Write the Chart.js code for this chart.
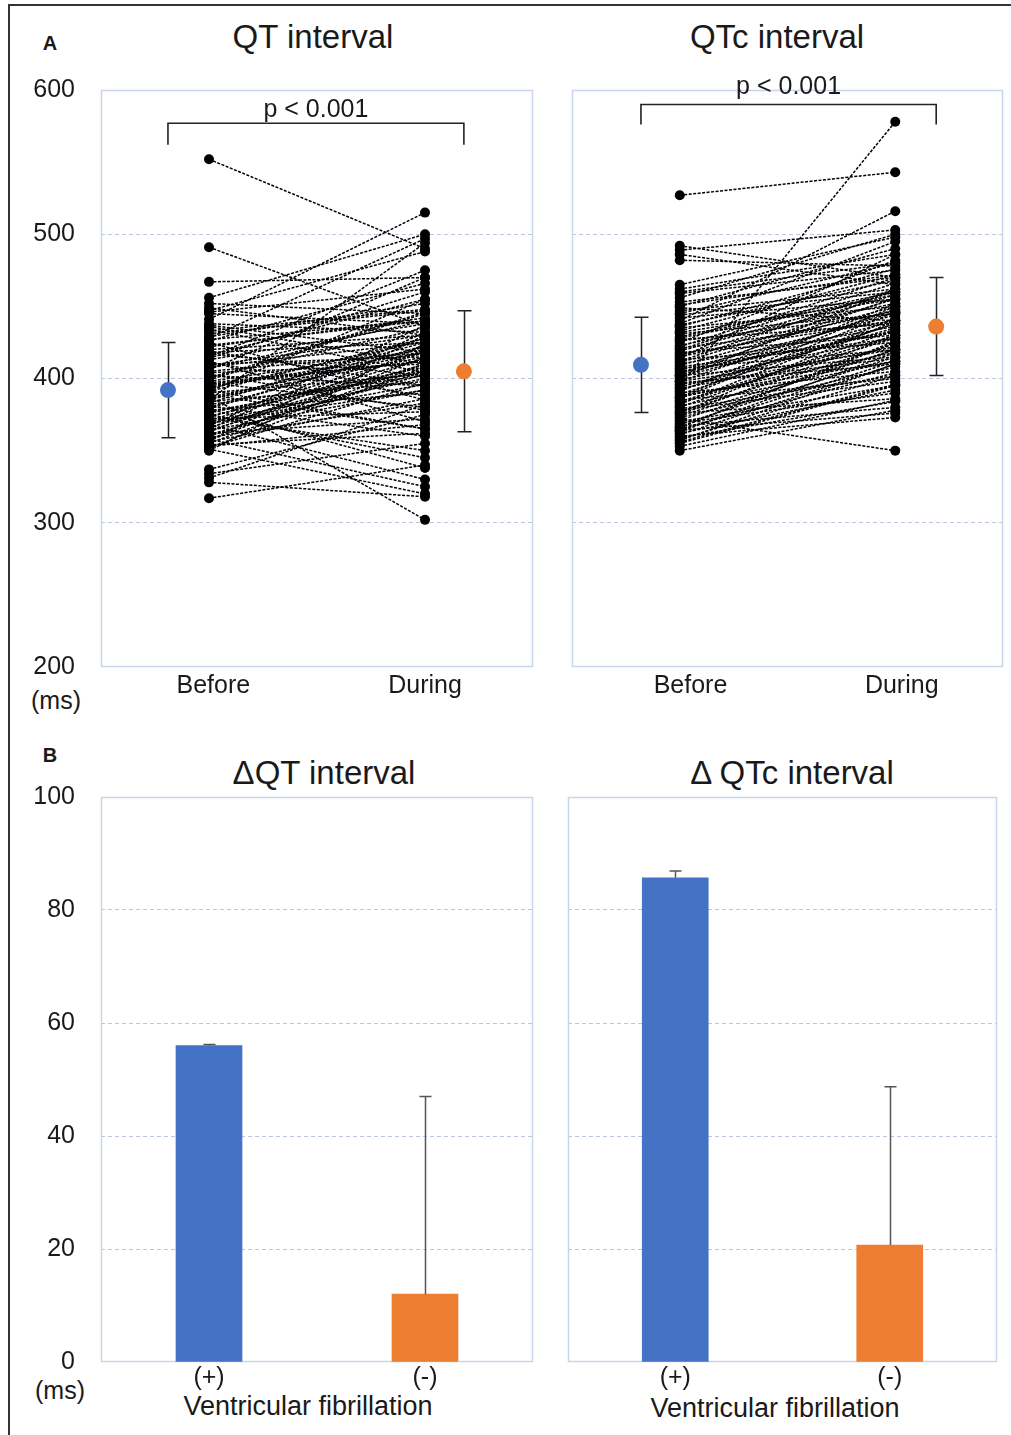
<!DOCTYPE html>
<html><head><meta charset="utf-8">
<script src="https://cdn.jsdelivr.net/npm/chart.js@4.4.1/dist/chart.umd.min.js"></script>
<style>
body{margin:0;background:#fff;width:1011px;height:1435px;overflow:hidden;position:relative;font-family:"Liberation Sans",Arial,sans-serif;color:#1a1a1a}
.frame{position:absolute;left:8px;top:4px;width:1100px;height:1500px;border-left:2px solid #333;border-top:2px solid #333}
canvas{position:absolute}
.t{position:absolute;white-space:nowrap;transform:translate(-50%,-50%)}
</style></head><body>
<div class="frame"></div>
<div class="t" style="left:50px;top:43px;font-weight:bold;font-size:20px">A</div>
<div class="t" style="left:50px;top:755px;font-weight:bold;font-size:20px">B</div>
<div class="t" style="left:313px;top:37px;font-size:33px">QT interval</div>
<div class="t" style="left:777px;top:37px;font-size:33px">QTc interval</div>
<div class="t" style="left:324px;top:773px;font-size:33px">ΔQT interval</div>
<div class="t" style="left:792px;top:773px;font-size:33px">Δ QTc interval</div>
<div class="t" style="left:56px;top:700px;font-size:25px">(ms)</div>
<div class="t" style="left:60px;top:1390px;font-size:25px">(ms)</div>
<div class="t" style="left:308px;top:1406px;font-size:27px">Ventricular fibrillation</div>
<div class="t" style="left:775px;top:1408px;font-size:27px">Ventricular fibrillation</div>
<canvas id="cA1" width="545" height="725" style="left:0;top:0;width:545px;height:725px"></canvas>
<canvas id="cA2" width="466" height="725" style="left:545px;top:0;width:466px;height:725px"></canvas>
<canvas id="cB1" width="545" height="710" style="left:0;top:725px;width:545px;height:710px"></canvas>
<canvas id="cB2" width="466" height="710" style="left:545px;top:725px;width:466px;height:710px"></canvas>
<script>
// ---------------- data ----------------
const groups = ['Before', 'During'];
const qtBefore = [552,491,467,456,452,449,447,445,441,438,436,433,431,428,427,425,422,420,418,417,415,413,412,410,408,407,405,404,402,401,400,398,397,396,395,393,392,391,390,388,387,386,385,384,382,381,380,379,378,376,375,374,373,372,371,370,369,368,366,365,364,363,362,361,360,358,357,356,355,353,352,351,350,337,334,331,328,317,
  446,437,429,423,419,414,409,403,399,394,389,383,377,373,369,367,364,359,357,354,352,406,416,426,434,391,379,385,397,411];
const qtDuring = [490,436,470,500,445,430,488,438,515,432,410,448,447,497,440,385,442,430,425,402,475,438,370,415,425,440,418,410,395,435,446,420,380,412,412,426,365,428,403,302,418,415,494,398,402,360,422,423,390,408,345,406,418,377,414,400,396,330,410,432,392,420,372,403,405,325,415,386,410,368,397,320,424,375,355,382,318,340,
  462,418,452,440,395,460,430,378,445,418,365,428,405,350,392,437,410,383,430,362,408,470,455,466,404,455,338,425,412,388];
const qtcBefore = [527,492,489,486,482,465,462,459,456,453,450,447,445,442,440,437,435,433,431,429,427,425,423,421,420,418,416,415,413,412,410,409,407,406,405,403,402,401,399,398,397,395,394,393,391,390,389,387,386,385,383,382,381,380,378,377,376,375,373,372,371,370,368,367,366,365,364,363,362,361,360,358,356,353,350,419,404,396,
  460,451,444,438,432,426,422,417,411,408,402,398,392,388,384,379,374,369,364,359,355,357,449,436,428,414,400,387,376,366];
const qtcDuring = [543,470,503,465,478,498,486,475,500,470,490,462,480,455,516,468,450,472,445,460,438,482,452,440,466,430,458,447,425,462,436,450,420,444,432,456,415,440,428,448,410,578,435,422,452,405,438,418,446,400,428,442,412,434,398,424,386,430,408,350,420,395,415,380,426,404,376,418,392,410,373,402,396,385,378,460,433,414,
  480,472,460,495,455,445,470,440,455,428,446,420,438,412,430,402,420,390,412,384,395,410,440,476,458,486,462,450,440,425];
const qtMean = [392, 405];
const qtSD = [33, 42];
const qtcMean = [409.5, 436];
const qtcSD = [33, 34];
const qtBracket = [562, 577];
const qtcBracket = [576, 590];
const pLabel = 'p < 0.001';
const pLabelY = [581, 597];
const yTicksA = [200, 300, 400, 500, 600];

const vfCats = ['(+)', '(-)'];
const dQT = [56, 12];
const dQTsd = [0.2, 35];
const dQTc = [85.7, 20.7];
const dQTcsd = [1.2, 28];
const yTicksB = [0, 20, 40, 60, 80, 100];

// ---------------- style ----------------
const BLUE = '#4472C4', ORANGE = '#ED7D31';
const GRID = '#b8c6de', BOX = '#c8d5ea', TXT = '#1a1a1a';
const FONT = '"Liberation Sans", Arial, sans-serif';

function gridColor(min, max) {
  return c => (c.tick && (c.tick.value === min || c.tick.value === max)) ? 'rgba(0,0,0,0)' : GRID;
}

function boxPlugin() {
  return {
    id: 'box',
    beforeDatasetsDraw(chart) {
      const {ctx, chartArea: a} = chart;
      ctx.save();
      ctx.strokeStyle = BOX; ctx.lineWidth = 1.5;
      ctx.strokeRect(a.left + 0.5, a.top + 0.5, a.width - 1, a.height - 1);
      ctx.restore();
    }
  };
}

function paired(id, before, during, mean, sd, bracket, pY, cfg) {
  const datasets = before.map((b, i) => ({
    data: [{x: 1, y: b}, {x: 2, y: during[i]}],
    borderColor: '#000', borderWidth: 1.5, borderDash: [3, 1.5],
    pointRadius: 5, pointHoverRadius: 5, pointBackgroundColor: '#000', pointBorderWidth: 0
  }));
  datasets.push({
    data: [{x: cfg.meanX[0], y: bracket[0]}, {x: cfg.meanX[0], y: bracket[1]}, {x: cfg.meanX[1], y: bracket[1]}, {x: cfg.meanX[1], y: bracket[0]}],
    borderColor: '#222', borderWidth: 1.6, pointRadius: 0, tension: 0
  });
  datasets.push({
    data: [{x: cfg.meanX[0], y: mean[0]}, {x: cfg.meanX[1], y: mean[1]}],
    showLine: false, pointRadius: 8, pointHoverRadius: 8,
    pointBackgroundColor: [BLUE, ORANGE], pointBorderWidth: 0
  });
  const errPlugin = {
    id: 'err',
    beforeDatasetsDraw(chart) {
      const {ctx, scales: {x, y}} = chart;
      ctx.save();
      ctx.strokeStyle = '#222'; ctx.lineWidth = 1.5;
      mean.forEach((m, i) => {
        const px = Math.round(x.getPixelForValue(cfg.meanX[i])) + 0.5;
        const y1 = y.getPixelForValue(m + sd[i]), y2 = y.getPixelForValue(m - sd[i]);
        ctx.beginPath();
        ctx.moveTo(px, y1); ctx.lineTo(px, y2);
        ctx.moveTo(px - 7, y1); ctx.lineTo(px + 7, y1);
        ctx.moveTo(px - 7, y2); ctx.lineTo(px + 7, y2);
        ctx.stroke();
      });
      ctx.restore();
    },
    afterDatasetsDraw(chart) {
      const {ctx, scales: {x, y}} = chart;
      ctx.save();
      ctx.fillStyle = TXT; ctx.font = '25px ' + FONT;
      ctx.textAlign = 'center'; ctx.textBaseline = 'alphabetic';
      ctx.fillText(pLabel, x.getPixelForValue((cfg.meanX[0] + cfg.meanX[1]) / 2), y.getPixelForValue(pY));
      ctx.restore();
    }
  };
  return new Chart(document.getElementById(id), {
    type: 'line',
    data: {datasets},
    options: {
      responsive: false, animation: false, events: [],
      layout: {padding: {top: 90, right: cfg.padRight, left: 0, bottom: 0}},
      plugins: {legend: {display: false}, tooltip: {enabled: false}},
      scales: {
        x: {
          type: 'linear', min: 0.5, max: 2.5,
          afterBuildTicks: s => { s.ticks = cfg.tickPos.map(v => ({value: v})); },
          afterFit: s => { s.height = 58; },
          grid: {display: false, drawTicks: false}, border: {display: false},
          ticks: {callback: (v, i) => groups[i], font: {family: FONT, size: 25}, color: TXT, padding: 4, maxRotation: 0, autoSkip: false}
        },
        y: {
          type: 'linear', min: 200, max: 600,
          afterBuildTicks: s => { s.ticks = yTicksA.map(v => ({value: v})); },
          afterFit: s => { s.width = cfg.yWidth; },
          grid: {color: gridColor(200, 600), lineWidth: 1, drawTicks: false},
          border: {display: false, dash: [4, 3]},
          ticks: {display: cfg.showY, font: {family: FONT, size: 25}, color: TXT, padding: 26}
        }
      }
    },
    plugins: [boxPlugin(), errPlugin]
  });
}

function bars(id, vals, sds, cfg) {
  const errPlugin = {
    id: 'berr',
    afterDatasetsDraw(chart) {
      const {ctx, scales: {y}} = chart;
      const meta = chart.getDatasetMeta(0);
      ctx.save();
      ctx.strokeStyle = '#555'; ctx.lineWidth = 1.5;
      vals.forEach((v, i) => {
        const px = Math.round(meta.data[i].x) + 0.5;
        const y1 = y.getPixelForValue(v), y2 = y.getPixelForValue(v + sds[i]);
        ctx.beginPath();
        ctx.moveTo(px, y1); ctx.lineTo(px, y2);
        ctx.moveTo(px - 6, y2); ctx.lineTo(px + 6, y2);
        ctx.stroke();
      });
      ctx.restore();
    }
  };
  return new Chart(document.getElementById(id), {
    type: 'bar',
    data: {labels: vfCats, datasets: [{data: vals, backgroundColor: [BLUE, ORANGE], borderWidth: 0, barThickness: 66}]},
    options: {
      responsive: false, animation: false, events: [],
      layout: {padding: {top: 72, right: cfg.padRight, left: 0, bottom: 0}},
      plugins: {legend: {display: false}, tooltip: {enabled: false}},
      scales: {
        x: {
          afterFit: s => { s.height = 73; },
          grid: {display: false, drawTicks: false}, border: {display: false},
          ticks: {font: {family: FONT, size: 25}, color: TXT, padding: 1, maxRotation: 0}
        },
        y: {
          min: 0, max: 100,
          afterBuildTicks: s => { s.ticks = yTicksB.map(v => ({value: v})); },
          afterFit: s => { s.width = cfg.yWidth; },
          grid: {color: gridColor(0, 100), lineWidth: 1, drawTicks: false},
          border: {display: false, dash: [4, 3]},
          ticks: {display: cfg.showY, font: {family: FONT, size: 25}, color: TXT, padding: 26}
        }
      }
    },
    plugins: [boxPlugin(), errPlugin]
  });
}

paired('cA1', qtBefore, qtDuring, qtMean, qtSD, qtBracket, pLabelY[0],
  {meanX: [0.81, 2.18], tickPos: [1.02, 2.0], padRight: 12, yWidth: 101, showY: true});
paired('cA2', qtcBefore, qtcDuring, qtcMean, qtcSD, qtcBracket, pLabelY[1],
  {meanX: [0.82, 2.19], tickPos: [1.05, 2.03], padRight: 7, yWidth: 27, showY: false});
bars('cB1', dQT, dQTsd, {padRight: 12, yWidth: 101, showY: true});
bars('cB2', dQTc, dQTcsd, {padRight: 14, yWidth: 23, showY: false});
</script>
</body></html>
